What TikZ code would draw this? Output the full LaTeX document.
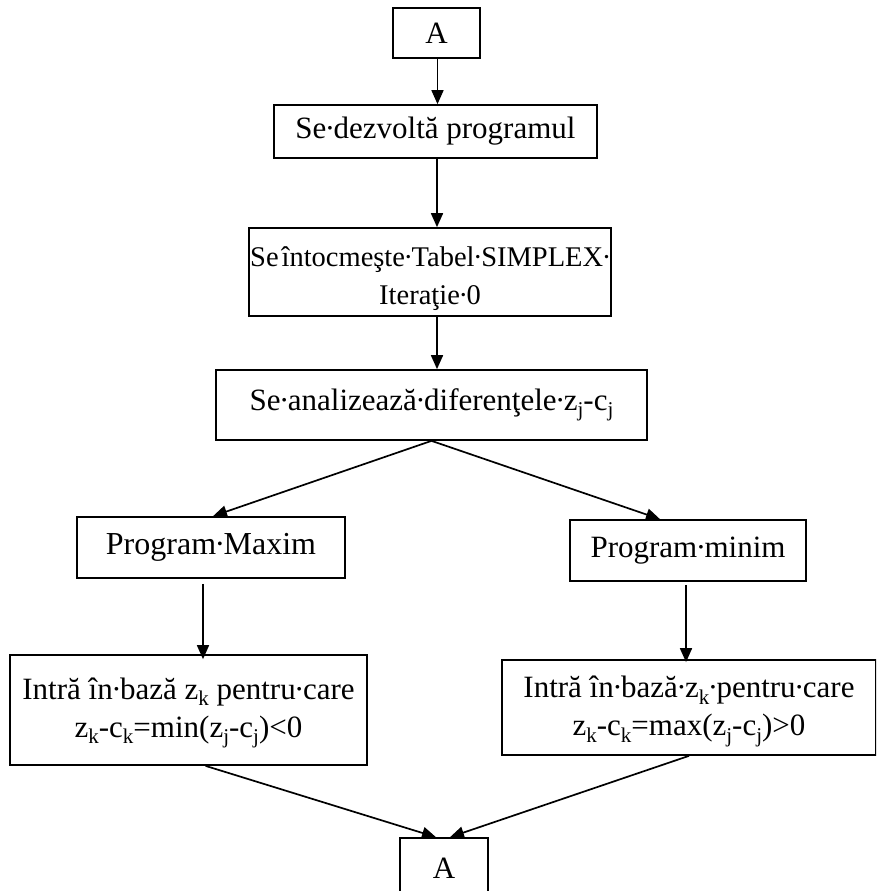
\documentclass[tikz,border=0pt]{standalone}
\usepackage{fontspec}
\setmainfont{Liberation Serif}
\usetikzlibrary{calc,arrows.meta}
% lowered, smaller index letters (z_j, c_k, ...)
\newcommand{\idx}[1]{\raisebox{-0.2em}{\fontsize{21}{21}\selectfont #1}}
% visible space mark, set tight
\newcommand{\pd}{\kern-0.05em·\kern-0.05em}
\begin{document}
\begin{tikzpicture}[x=1pt,y=-1pt,
  box/.style={draw,line width=1.7pt,inner sep=0pt,align=center,
    font=\fontsize{31}{38}\selectfont},
  txt/.style={inner sep=0pt,align=center,font=\fontsize{31}{38}\selectfont},
  arr/.style={line width=1.7pt,-{Triangle[length=14pt,width=12pt]}}]
\clip (0,0) rectangle (876,891);
\fill[white] (0,0) rectangle (876,891);

% boxes
\node[box,minimum width=87pt,minimum height=50pt] (a1) at (436.5,33) {A};
\node[box,minimum width=323pt,minimum height=53pt] (b) at (435.5,131.5) {Se\pd dezvoltă programul};
\node[box,minimum width=362pt,minimum height=88pt] (c) at (430,272) {};
\node[txt,font=\fontsize{28.5}{38}\selectfont] at ([yshift=-7pt]c.center)
  {Se\kern0.1em întocmeşte\pd Tabel\pd SIMPLEX\pd\\Iteraţie\pd 0};
\node[box,minimum width=431pt,minimum height=70pt] (d) at (431.5,405) {Se\pd analizează\pd diferenţele\pd z\idx{j}-c\idx{j}};
\node[box,minimum width=268pt,minimum height=61pt,font=\fontsize{32}{38}\selectfont] (e) at (211,547.5)
  {Program\pd Maxim};
\node[box,minimum width=236pt,minimum height=61pt] (f) at (688,550.5) {Program\pd minim};
\node[box,minimum width=357pt,minimum height=110pt] (g) at (188.5,710) {};
\node[txt] at ([yshift=-3pt]g.center)
  {Intră în\pd bază z\idx{k} pentru\pd care\\z\idx{k}-c\idx{k}=min(z\idx{j}-c\idx{j})<0};
\node[box,minimum width=374pt,minimum height=95pt] (h) at (689,707.5) {};
\node[txt] at ([yshift=-4pt]h.center)
  {Intră în\pd bază\pd z\idx{k}\pd pentru\pd care\\z\idx{k}-c\idx{k}=max(z\idx{j}-c\idx{j})>0};
\node[box,minimum width=88pt,minimum height=60pt] (a2) at (444,868) {A};

% connectors
\draw[arr] ([xshift=1pt]a1.south) -- ([xshift=1pt]a1.south |- b.north);
\draw[arr] ([xshift=1.5pt]b.south) -- ([xshift=1.5pt]b.south |- c.north);
\draw[arr] ([xshift=7pt]c.south) -- ([xshift=7pt]c.south |- d.north);
\draw[arr] (d.south) -- ([xshift=2pt]e.north);
\draw[arr] (d.south) -- ([xshift=-28pt]f.north);
\draw[arr] ([shift={(-8,5)}]e.south) -- ([shift={(-8,5)}]e.south |- g.north);
\draw[arr] ([shift={(-2,3)}]f.south) -- ([shift={(-2,3)}]f.south |- h.north);
\draw[arr] ([xshift=17pt]g.south) -- ([xshift=-8pt]a2.north);
\draw[arr] ([xshift=0pt]h.south) -- ([xshift=6pt]a2.north);
\end{tikzpicture}
\end{document}
